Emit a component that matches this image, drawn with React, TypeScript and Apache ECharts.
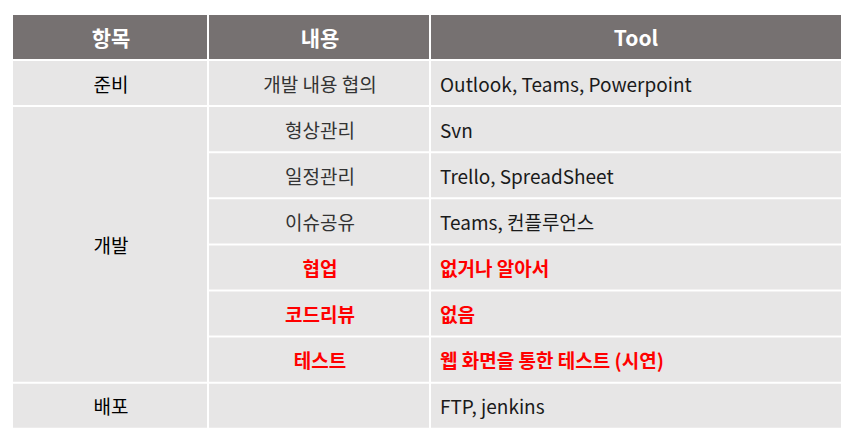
import { useEffect, useRef } from 'react'
import * as echarts from 'echarts'

const headers = ['항목', '내용', 'Tool']
const groups = [
  { label: '준비', span: 1 },
  { label: '개발', span: 6 },
  { label: '배포', span: 1 },
]
const items = ['개발 내용 협의', '형상관리', '일정관리', '이슈공유', '협업', '코드리뷰', '테스트', '']
const tools = [
  'Outlook, Teams, Powerpoint',
  'Svn',
  'Trello, SpreadSheet',
  'Teams, 컨플루언스',
  '없거나 알아서',
  '없음',
  '웹 화면을 통한 테스트 (시연)',
  'FTP, jenkins',
]
const highlighted = [false, false, false, false, true, true, true, false]

const colX = [13, 209, 431, 841]
const top = 15
const headH = 44
const rowH = 46.1
const gap = 2
const font = '"Noto Sans CJK KR", "Noto Sans", sans-serif'

export default function App() {
  const ref = useRef<HTMLDivElement>(null)

  useEffect(() => {
    document.body.style.margin = '0'
    const chart = echarts.init(ref.current!, null, { renderer: 'svg' })
    const els: any[] = []
    const cell = (x0: number, x1: number, y0: number, y1: number, fill: string) => {
      els.push({ type: 'rect', shape: { x: x0, y: y0, width: x1 - x0 - gap, height: y1 - y0 - gap }, style: { fill } })
    }
    const text = (t: string, x: number, y: number, align: string, color: string, bold: boolean, size: number) => {
      els.push({
        type: 'text', x, y,
        style: { text: t, fill: color, font: `${bold ? 'bold ' : ''}${size}px ${font}`, align, verticalAlign: 'middle' },
      })
    }
    // header
    headers.forEach((h, i) => {
      cell(colX[i], colX[i + 1] + (i === 2 ? gap : 0), top, top + headH + gap, '#767171')
      text(h, (colX[i] + colX[i + 1]) / 2, top + headH / 2, 'center', '#ffffff', true, 21)
    })
    const bodyTop = top + headH + gap
    // group column
    let r = 0
    groups.forEach((g) => {
      const y0 = bodyTop + r * rowH
      const y1 = bodyTop + (r + g.span) * rowH
      cell(colX[0], colX[1], y0, y1, '#e7e6e6')
      text(g.label, (colX[0] + colX[1]) / 2, (y0 + y1 - gap) / 2, 'center', '#000000', false, 19)
      r += g.span
    })
    items.forEach((it, i) => {
      const y0 = bodyTop + i * rowH
      const y1 = y0 + rowH
      const hl = highlighted[i]
      const color = hl ? '#ff0000' : '#1a1a1a'
      cell(colX[1], colX[2], y0, y1, '#e7e6e6')
      cell(colX[2], colX[3] + gap, y0, y1, '#e7e6e6')
      if (it) text(it, (colX[1] + colX[2]) / 2, y0 + (rowH - gap) / 2, 'center', hl ? '#ff0000' : '#333333', hl, 19)
      text(tools[i], colX[2] + 9, y0 + (rowH - gap) / 2, 'left', color, hl, 19)
    })

    chart.setOption({ animation: false, backgroundColor: '#ffffff', graphic: { elements: els } })
    return () => chart.dispose()
  }, [])

  return <div ref={ref} style={{ width: 855, height: 448 }} />
}
